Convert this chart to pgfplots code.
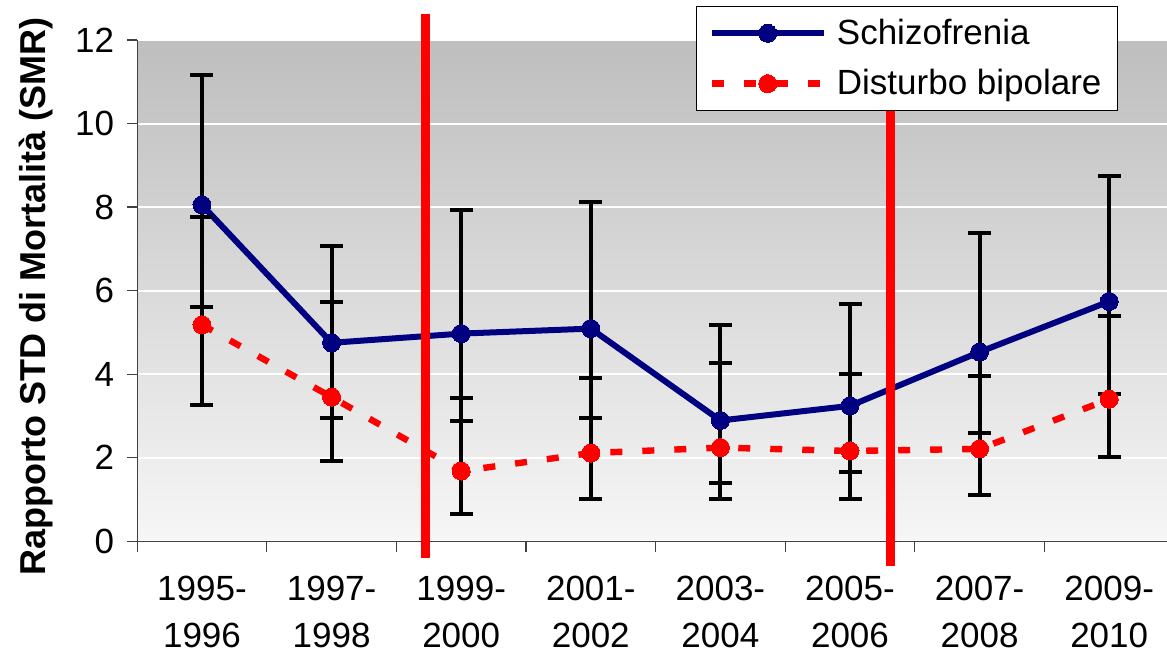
\documentclass[border=0pt]{standalone}
\usepackage{fontspec}
\setmainfont{Liberation Sans}
\usepackage{pgfplots}
\usepackage{pgfplotstable}
\pgfplotsset{compat=1.18}
\definecolor{navyblue}{RGB}{0,0,128}
\definecolor{bgtop}{RGB}{190,190,190}
\definecolor{bgbot}{RGB}{246,246,246}

\pgfplotstableread{
x y ep em
0 8.05 3.11 2.44
1 4.75 2.31 1.80
2 4.97 2.95 2.10
3 5.09 3.04 2.13
4 2.89 2.28 1.49
5 3.24 2.45 1.58
6 4.53 2.85 1.95
7 5.74 3.01 2.21
}\schizo

\pgfplotstableread{
x y ep em
0 5.18 2.58 1.91
1 3.45 2.27 1.53
2 1.68 1.75 1.02
3 2.11 1.80 1.11
4 2.24 2.02 1.23
5 2.16 1.84 1.15
6 2.21 1.74 1.10
7 3.40 1.98 1.38
}\bipolar

\begin{document}
\begin{tikzpicture}[font=\fontsize{17.5}{21}\selectfont]
\begin{axis}[
  scale only axis, width=518.4pt, height=250.6pt,
  xmin=-0.5, xmax=7.5, ymin=0, ymax=12,
  clip=false,
  axis lines*=left,
  axis line style={black!75, line width=0.6pt},
  axis background/.style={top color=bgtop, bottom color=bgbot},
  tick align=outside,
  ytick={0,2,...,12},
  ymajorgrids,
  major grid style={white, line width=1pt},
  major tick length=5pt,
  minor tick length=5.5pt,
  ytick style={black!75, line width=0.6pt},
  xtick={0,...,7},
  xticklabels={1995-\\1996,1997-\\1998,1999-\\2000,2001-\\2002,2003-\\2004,2005-\\2006,2007-\\2008,2009-\\2010},
  xticklabel style={align=center, font=\fontsize{17.5}{23.25}\selectfont, yshift=-9pt},
  major x tick style={draw=none},
  minor xtick={-0.5,0.5,...,7.5},
  minor x tick style={black!75, line width=0.6pt},
  yticklabel style={font=\fontsize{17.5}{21}\selectfont, xshift=-3pt},
  /pgf/number format/assume math mode=true,
  ylabel={Rapporto STD di Mortalità (SMR)},
  ylabel style={font=\fontsize{18}{21}\selectfont\bfseries, at={(ticklabel cs:0.488)}, yshift=4pt},
  legend style={at={(0.539,1.0686)}, anchor=north west, draw=black, line width=0.5pt,
    fill=white, font=\fontsize{17.5}{21}\selectfont, row sep=7pt, column sep=3pt,
    inner xsep=6pt, inner ysep=4.5pt, cells={anchor=west}},
  legend image code/.code={\draw[#1, mark repeat=2, mark phase=2] plot coordinates {(0pt,0pt) (28pt,0pt) (56pt,0pt)};},
  error bars/error bar style={black, line width=2pt, solid},
  error bars/error mark options={black, line width=2pt, mark size=5.75pt, rotate=90, solid},
]
\coordinate (bl) at (rel axis cs:0,0);
\coordinate (tr) at (rel axis cs:1,1);
\addplot[navyblue, line width=3pt, mark=*, mark size=4.5pt, mark options={solid, fill=navyblue, draw=navyblue, line width=0pt},
  error bars/.cd, y dir=both, y explicit]
  table[x=x, y=y, y error plus=ep, y error minus=em] {\schizo};
\addlegendentry{Schizofrenia}
\addplot[red, line width=3.2pt, dash pattern=on 6pt off 10pt, mark=*, mark size=4.5pt, mark options={solid, fill=red, draw=red, line width=0pt},
  error bars/.cd, y dir=both, y explicit]
  table[x=x, y=y, y error plus=ep, y error minus=em] {\bipolar};
\addlegendentry{Disturbo bipolare}
\addplot[only marks, mark=*, mark size=4.5pt, mark options={fill=navyblue, draw=navyblue, line width=0pt}, forget plot]
  table[x=x, y=y] {\schizo};
\addplot[only marks, mark=*, mark size=4.5pt, mark options={fill=red, draw=red, line width=0pt}, forget plot]
  table[x=x, y=y] {\bipolar};
\addplot[red, line width=4.5pt, forget plot] coordinates {(1.728,12.63) (1.728,-0.40)};
\addplot[red, line width=4.5pt, forget plot] coordinates {(5.316,10.62) (5.316,-0.59)};
\end{axis}
\pgfresetboundingbox
\useasboundingbox ([xshift=-68.6pt,yshift=-58pt]bl) rectangle ([xshift=-3.5pt,yshift=20pt]tr);
\end{tikzpicture}
\end{document}
